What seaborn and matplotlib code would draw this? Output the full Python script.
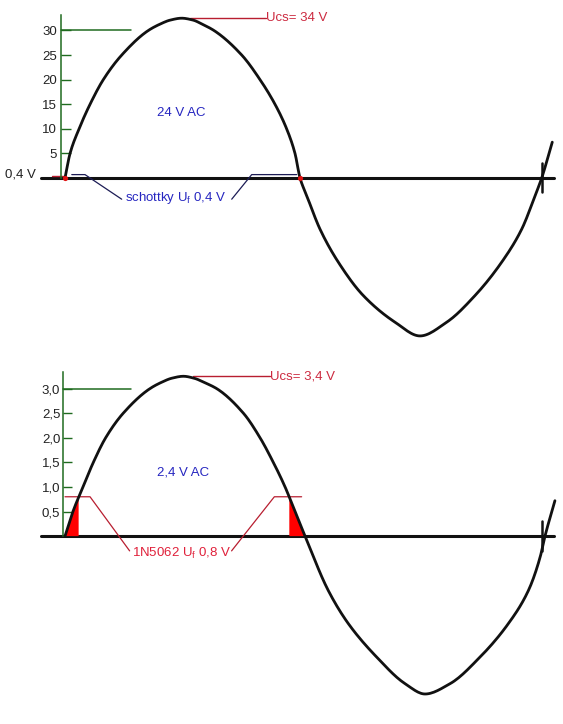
import numpy as np
import matplotlib
matplotlib.use('Agg')
import matplotlib.pyplot as plt
import seaborn as sns

# DATA (phase in degrees, voltage in V)
phase_24 = [0, 3.8, 10.6, 18.9, 28.9, 42.8, 62.9, 71.8, 79.3, 88.1, 96.9, 103.5, 112.5,
            133.5, 147.3, 158.6, 167.4, 173.7, 177.5, 182.6,
            192.6, 206.4, 225.3, 249.2, 268.1, 288.3, 309.6, 329.8, 344.9, 355, 360, 368]
volt_24 = [0, 5, 10, 15, 20, 25, 30, 31.3, 32.1, 32.5, 32.1, 31.3, 30,
           25, 20, 15, 10, 5, 0, -3.6,
           -10.4, -17.1, -23.9, -29.3, -32.1, -29.3, -23.9, -17.1, -10.4, -3.6, 0, 7.3]

phase_2 = [0, 6.0, 13.6, 21.4, 30.7, 44.0, 64.2, 73.1, 80.6, 89.4, 97.5, 105.5, 114.5,
           134.7, 147.3, 157.3, 166.2, 173.7, 181.3,
           198.9, 214.0, 235.4, 256.8, 271.9, 290.8, 313.4, 334.8, 349.9, 358.8, 362.5, 370]
volt_2 = [0, 0.5, 1.0, 1.5, 2.0, 2.5, 3.0, 3.13, 3.21, 3.25, 3.21, 3.12, 3.0,
          2.5, 2.0, 1.5, 1.0, 0.5, 0,
          -1.11, -1.78, -2.46, -3.0, -3.21, -3.0, -2.46, -1.78, -1.11, -0.43, 0, 0.72]

ticks_24 = [5, 10, 15, 20, 25, 30]
ticklabels_24 = ['5', '10', '15', '20', '25', '30']
ticks_2 = [0.5, 1.0, 1.5, 2.0, 2.5, 3.0]
ticklabels_2 = ['0,5', '1,0', '1,5', '2,0', '2,5', '3,0']

uf_schottky = 0.4
uf_1n5062 = 0.8

# COLOURS
green = '#1f6b1f'
blue = '#2626c0'
red_txt = '#cc2a40'
red_line = '#b81e30'
navy = '#1c1c55'

sns.set_theme(style='white')
plt.rcParams['font.family'] = ['Liberation Sans', 'DejaVu Sans']
plt.rcParams['mathtext.fontset'] = 'custom'
plt.rcParams['mathtext.rm'] = 'Liberation Sans'
plt.rcParams['mathtext.it'] = 'Liberation Sans:italic'


# smooth drawing of the read points (shape preserving cubic, pchip style)
def smooth(x, y, per=14):
    x = np.asarray(x, float)
    y = np.asarray(y, float)
    h = np.diff(x)
    d = np.diff(y) / h
    m = np.zeros_like(y)
    for k in range(1, len(x) - 1):
        if d[k - 1] * d[k] > 0:
            w1 = 2 * h[k] + h[k - 1]
            w2 = h[k] + 2 * h[k - 1]
            m[k] = (w1 + w2) / (w1 / d[k - 1] + w2 / d[k])
    m[0] = d[0]
    m[-1] = d[-1]
    t = np.linspace(0, 1, per, endpoint=False)
    h00 = 2 * t**3 - 3 * t**2 + 1
    h10 = t**3 - 2 * t**2 + t
    h01 = -2 * t**3 + 3 * t**2
    h11 = t**3 - t**2
    xs, ys = [], []
    for i in range(len(x) - 1):
        xs.append(x[i] + t * h[i])
        ys.append(h00 * y[i] + h10 * h[i] * m[i] + h01 * y[i + 1] + h11 * h[i] * m[i + 1])
    xs.append([x[-1]])
    ys.append([y[-1]])
    return np.concatenate(xs), np.concatenate(ys)


fig = plt.figure(figsize=(5.63, 7.24), dpi=100)
ax_top = fig.add_axes([0, 0.5, 1, 0.5])
ax_bot = fig.add_axes([0, 0, 1, 0.5])


def panel(ax, phase, volt, uf, ticks, ticklabels, ylim, spine_x, spine_top, tick_len, pad):
    ax.set_xlim(-49.1, 376.1)
    ax.set_ylim(*ylim)
    ax.set_facecolor('white')
    for s in ['top', 'right', 'bottom']:
        ax.spines[s].set_visible(False)
    ax.spines['left'].set_position(('data', spine_x))
    ax.spines['left'].set_bounds(0, spine_top)
    ax.spines['left'].set_color(green)
    ax.spines['left'].set_linewidth(1.1)
    ax.set_xticks([])
    ax.set_yticks(ticks)
    ax.set_yticklabels(ticklabels)
    ax.tick_params(axis='y', direction='in', length=tick_len, width=1, color=green,
                   labelsize=9.5, labelcolor='#222222', pad=pad, left=True)

    # zero line
    ax.axhline(0, xmin=0.073, xmax=0.984, color='#111111', lw=2.2, zorder=2)

    # the wave
    xs, ys = smooth(phase, volt)
    sns.lineplot(x=xs, y=ys, ax=ax, color='#111111', lw=2.0,
                 estimator=None, sort=False, zorder=3)

    # long tick at the top value
    ax.plot([spine_x, 50], [ticks[-1], ticks[-1]], color=green, lw=1.1)

    # end-of-period marker
    vmax = max(volt)
    ax.plot([360, 360], [-0.09 * vmax, 0.095 * vmax], color='#111111', lw=1.8, zorder=4)

    # region where the diode does not conduct
    zeros = [p for p, v in zip(phase, volt) if v == 0 and p < 270]
    mask = (xs >= zeros[0]) & (xs <= zeros[1])
    xf = np.linspace(zeros[0], zeros[1], 900)
    vf = np.interp(xf, xs[mask], ys[mask])
    ax.fill_between(xf, 0, vf, where=vf <= uf + 1e-9, color='#ff0000', lw=0, zorder=2.5)
    return zeros, vmax


# ---- top: 24 V AC, schottky diode
zeros, vmax = panel(ax_top, phase_24, volt_24, uf_schottky, ticks_24, ticklabels_24,
                    (-37.4, 36.2), -3.0, 33.1, 7.5, 3)
ax_top.scatter(zeros, [0, 0], s=14, color='#e01010', zorder=5, linewidths=0)
ax_top.plot([-9.8, 0], [uf_schottky, uf_schottky], color=red_line, lw=1)
ax_top.text(-21.9, 0.8, '0,4 V', ha='right', va='center', fontsize=9.5, color='#222222')
ax_top.text(87.9, 13.2, '24 V AC', ha='center', va='center', fontsize=9.5, color=blue)
ax_top.plot([94.4, 151.8], [vmax, vmax], color=red_line, lw=1)
ax_top.text(151.8, vmax, 'Ucs= 34 V', ha='left', va='center', fontsize=9.5, color=red_txt)
y_lab = -4.3
ax_top.plot([5.1, 15.1, 42.8], [uf_schottky + 0.3, uf_schottky + 0.3, y_lab], color=navy, lw=0.9)
ax_top.plot([125.9, 141, 175], [y_lab, uf_schottky + 0.3, uf_schottky + 0.3], color=navy, lw=0.9)
ax_top.text(45.3, -4.1, r'schottky U$_\mathrm{f}$ 0,4 V', ha='left', va='center',
            fontsize=9.5, color=blue)

# ---- bottom: 2,4 V AC, 1N5062 diode
zeros, vmax = panel(ax_bot, phase_2, volt_2, uf_1n5062, ticks_2, ticklabels_2,
                    (-3.82, 3.54), -1.3, 3.33, 6.5, 2.2)
ax_bot.text(89, 1.3, '2,4 V AC', ha='center', va='center', fontsize=9.5, color=blue)
ax_bot.plot([96.7, 154.8], [vmax, vmax], color=red_line, lw=1)
ax_bot.text(154.8, vmax, 'Ucs= 3,4 V', ha='left', va='center', fontsize=9.5, color=red_txt)
y_lab = -0.3
ax_bot.plot([0, 18.9, 48.8], [uf_1n5062, uf_1n5062, y_lab], color=red_line, lw=0.9)
ax_bot.plot([125.8, 158.1, 178.7], [y_lab, uf_1n5062, uf_1n5062], color=red_line, lw=0.9)
ax_bot.text(50.4, -0.35, r'1N5062 U$_\mathrm{f}$ 0,8 V', ha='left', va='center',
            fontsize=9.5, color='#e0203a')

fig.savefig('out.png', dpi=100, facecolor='white')
